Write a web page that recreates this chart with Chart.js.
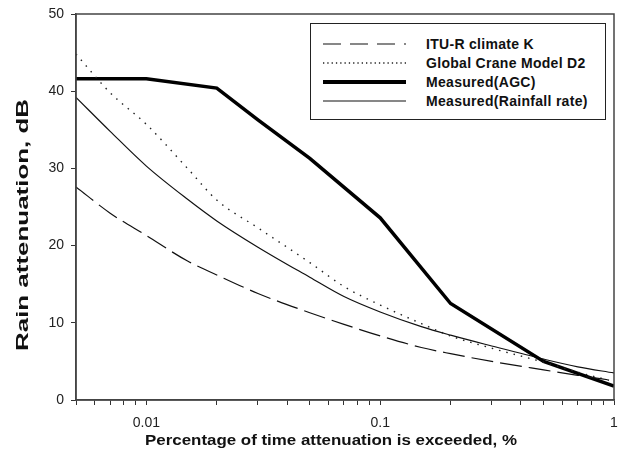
<!DOCTYPE html>
<html>
<head>
<meta charset="utf-8">
<script src="https://cdn.jsdelivr.net/npm/chart.js@4.4.1/dist/chart.umd.min.js"></script>
<style>
  body { margin: 0; background: #fff; }
  #wrap { position: relative; width: 622px; height: 467px; }
  #legend {
    position: absolute; left: 310px; top: 23px; width: 294px; height: 95px;
    border: 1px solid #222; background: #fff;
    font-family: "Liberation Sans", Arial, sans-serif; font-weight: bold; font-size: 14px;
    color: #111;
  }
  .row { position: absolute; left: 0; height: 19px; display: flex; align-items: center; }
  .row svg { margin-left: 12px; width: 83px; height: 8px; }
  .row span { margin-left: 20px; letter-spacing: 0.3px; white-space: nowrap; }
</style>
</head>
<body>
<div id="wrap">
  <canvas id="rainChart" width="622" height="467"></canvas>
  <div id="legend"></div>
</div>
<script>
// percentages of time (x) used for the computed curves
const pctTime = [0.005, 0.007, 0.01, 0.015, 0.02, 0.03, 0.05, 0.07, 0.1, 0.15, 0.2, 0.3, 0.5, 0.7, 1];

const ituK = [27.6, 24.2, 21.3, 18.0, 16.2, 13.8, 11.3, 9.8, 8.3, 6.8, 6.0, 5.0, 3.9, 3.2, 2.5];
const craneD2 = [44.8, 39.8, 35.7, 30.0, 25.9, 22.3, 17.8, 14.7, 12.3, 9.9, 8.3, 6.7, 4.9, 3.6, 2.4];
const rainRate = [39.2, 34.8, 30.3, 26.0, 23.2, 19.8, 15.9, 13.4, 11.4, 9.5, 8.4, 7.0, 5.3, 4.3, 3.5];

// measured AGC points
const agcTime = [0.005, 0.01, 0.02, 0.03, 0.05, 0.1, 0.2, 0.5, 1];
const agcAtt = [41.6, 41.6, 40.4, 36.3, 31.3, 23.6, 12.5, 5.0, 1.8];

const xTickValues = [0.005, 0.006, 0.007, 0.008, 0.009, 0.01, 0.02, 0.03, 0.04, 0.05, 0.06, 0.07, 0.08, 0.09,
  0.1, 0.2, 0.3, 0.4, 0.5, 0.6, 0.7, 0.8, 0.9, 1];
const xLabelValues = [0.01, 0.1, 1];
const yTickStep = 10;

const seriesNames = ["ITU-R climate K", "Global Crane Model D2", "Measured(AGC)", "Measured(Rainfall rate)"];

const toPoints = (xs, ys) => xs.map((x, i) => ({ x: x, y: ys[i] }));

const FONT = "'Liberation Sans', Arial, sans-serif";

const framePlugin = {
  id: "frame",
  afterDraw(chart) {
    const { ctx, chartArea: a } = chart;
    ctx.save();
    ctx.strokeStyle = "#444";
    ctx.lineWidth = 1.5;
    ctx.strokeRect(a.left, a.top, a.right - a.left, a.bottom - a.top);

    // axis titles, stretched to match the original figure
    ctx.fillStyle = "#111";
    ctx.textAlign = "center";
    ctx.textBaseline = "middle";

    ctx.font = "bold 15px " + FONT;
    let t = "Percentage of time attenuation is exceeded, %";
    let w = ctx.measureText(t).width;
    ctx.translate(331, 441);
    ctx.scale(372 / w, 1);
    ctx.fillText(t, 0, 0);
    ctx.restore();

    ctx.save();
    ctx.fillStyle = "#111";
    ctx.textAlign = "center";
    ctx.textBaseline = "middle";
    ctx.font = "bold 17px " + FONT;
    t = "Rain attenuation, dB";
    w = ctx.measureText(t).width;
    ctx.translate(23, 225);
    ctx.rotate(-Math.PI / 2);
    ctx.scale(252 / w, 1);
    ctx.fillText(t, 0, 0);
    ctx.restore();
  }
};

const chart = new Chart(document.getElementById("rainChart"), {
  type: "line",
  data: {
    datasets: [
      {
        label: seriesNames[0],
        data: toPoints(pctTime, ituK),
        borderColor: "#111",
        borderWidth: 1.2,
        borderDash: [22, 7],
        cubicInterpolationMode: "monotone"
      },
      {
        label: seriesNames[1],
        data: toPoints(pctTime, craneD2),
        borderColor: "#222",
        borderWidth: 1.4,
        borderDash: [1.5, 6],
        cubicInterpolationMode: "monotone"
      },
      {
        label: seriesNames[2],
        data: toPoints(agcTime, agcAtt),
        borderColor: "#000",
        borderWidth: 3.5,
        tension: 0
      },
      {
        label: seriesNames[3],
        data: toPoints(pctTime, rainRate),
        borderColor: "#111",
        borderWidth: 1.2,
        cubicInterpolationMode: "monotone"
      }
    ]
  },
  options: {
    responsive: false,
    animation: false,
    devicePixelRatio: 1,
    layout: { padding: { top: 14, right: 8, left: 0, bottom: 0 } },
    elements: { point: { radius: 0 } },
    plugins: {
      legend: { display: false },
      tooltip: { enabled: false }
    },
    scales: {
      x: {
        type: "logarithmic",
        position: "bottom",
        min: 0.005,
        max: 1,
        afterBuildTicks: (scale) => {
          scale.ticks = xTickValues.map(v => ({ value: v }));
        },
        afterFit: (scale) => {
          scale.height = 67;
          scale.paddingLeft = 0;
          scale.paddingRight = 0;
        },
        ticks: {
          autoSkip: false,
          maxRotation: 0,
          padding: 10,
          color: "#222",
          font: { family: FONT, size: 14 },
          callback: (v) => xLabelValues.includes(v) ? String(v) : ""
        },
        grid: { drawOnChartArea: false, drawTicks: true, tickLength: 5, tickColor: "#333", tickWidth: 1 },
        border: { display: true, color: "#444", width: 1.5 }
      },
      y: {
        type: "linear",
        min: 0,
        max: 50,
        afterFit: (scale) => {
          scale.width = 76;
          scale.paddingTop = 0;
          scale.paddingBottom = 0;
        },
        ticks: {
          stepSize: yTickStep,
          padding: 7,
          color: "#222",
          font: { family: FONT, size: 14 }
        },
        grid: { drawOnChartArea: false, drawTicks: true, tickLength: 5, tickColor: "#333", tickWidth: 1 },
        border: { display: true, color: "#444", width: 1.5 }
      }
    }
  },
  plugins: [framePlugin]
});

// html legend built from the chart's datasets
const legendBox = document.getElementById("legend");
chart.data.datasets.forEach((ds, i) => {
  const row = document.createElement("div");
  row.className = "row";
  row.style.top = (10 + i * 19) + "px";
  let dash = "";
  let width = ds.borderWidth;
  if (i === 0) dash = "18 9";
  if (i === 1) dash = "1.3 3";
  if (i === 2) width = 4;
  row.innerHTML =
    '<svg viewBox="0 0 83 8"><line x1="0" y1="4" x2="83" y2="4" stroke="' + ds.borderColor +
    '" stroke-width="' + width + '"' + (dash ? ' stroke-dasharray="' + dash + '"' : "") + '/></svg>' +
    "<span>" + ds.label + "</span>";
  legendBox.appendChild(row);
});
</script>
</body>
</html>
